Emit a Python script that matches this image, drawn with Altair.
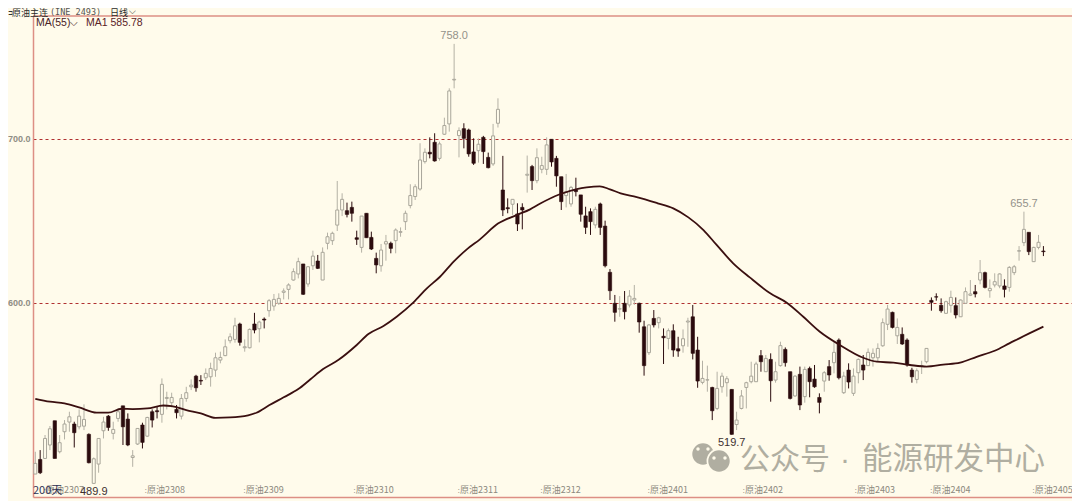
import altair as alt
import pandas as pd

opens = [495.7,504.6,505.2,513.4,528.2,509.3,521.5,527.4,526.2,524.5,524.9,519.9,490.0,501.8,522.1,531.0,520.5,529.6,537.3,529.2,
505.8,514.0,525.6,518.8,533.7,534.3,532.1,541.8,539.2,535.1,531.0,541.8,548.9,555.4,552.8,554.4,555.0,559.1,565.2,567.9,
577.0,577.8,587.2,572.7,572.7,587.2,584.3,590.2,595.3,598.1,599.8,606.5,608.3,614.0,617.7,623.8,611.6,622.7,625.6,614.0,
636.4,638.0,647.5,656.7,656.3,658.3,639.8,633.9,654.7,640.0,627.2,622.7,636.0,636.4,638.0,643.1,649.6,659.4,664.9,669.5,
686.2,691.9,698.0,688.2,702.9,709.2,736.0,702.1,706.3,705.5,692.1,692.9,701.0,688.8,684.8,709.6,668.9,658.1,660.2,654.3,
658.3,677.9,683.2,674.6,681.5,681.5,699.8,688.2,677.0,665.5,660.4,668.9,665.9,653.1,655.7,647.6,660.4,646.9,618.7,599.8,
596.3,599.8,598.8,601.8,599.8,585.5,569.7,590.6,588.0,579.7,578.4,583.1,572.1,573.9,588.4,591.6,571.3,551.6,553.0,548.5,
535.7,548.9,551.4,547.3,525.9,535.7,548.5,552.0,552.0,567.9,558.1,565.6,553.0,561.8,571.7,558.1,543.3,556.5,542.9,560.1,
553.6,542.4,552.4,561.2,563.6,577.4,545.3,559.1,544.9,557.5,562.2,561.8,566.6,566.6,573.9,587.0,594.3,580.0,580.9,577.4,
559.1,553.4,561.8,564.2,601.6,603.8,598.6,593.7,598.6,598.4,591.6,599.8,604.7,606.9,614.0,618.5,607.5,611.0,610.4,610.4,
609.5,618.5,631.6,636.8,643.1,625.2,633.9,631.7]
closes = [502.2,496.5,517.4,523.3,505.2,514.8,526.2,530.6,520.9,531.0,529.0,502.6,505.0,517.4,527.4,524.1,522.9,533.7,524.5,513.4,
506.8,523.5,515.0,530.2,528.6,533.7,550.4,542.4,542.4,533.1,541.8,545.3,549.9,548.3,552.4,557.1,560.1,566.6,566.8,573.3,
579.4,586.1,576.0,573.3,583.9,583.5,588.4,589.6,601.4,602.2,602.8,607.3,611.0,619.1,625.2,605.3,622.1,628.6,621.1,630.9,
640.4,642.5,656.7,663.2,654.0,654.7,638.8,653.0,639.8,632.9,623.2,632.3,637.4,633.3,644.5,643.5,654.7,665.5,670.9,687.2,
691.9,690.9,686.6,697.0,708.2,729.3,736.4,705.1,700.4,690.9,685.2,696.8,692.3,682.5,701.9,718.1,656.7,657.5,663.2,648.2,
656.7,678.5,674.6,688.6,683.8,696.4,686.0,677.5,661.8,667.9,670.5,667.9,654.1,646.1,649.6,657.1,646.1,622.7,607.5,594.3,
596.5,594.7,604.2,602.8,588.4,561.8,586.6,586.6,591.0,578.8,583.1,571.3,570.7,578.2,589.0,569.3,552.4,554.0,553.2,534.3,
547.9,555.4,553.8,519.9,528.6,543.3,551.4,555.4,562.8,564.2,566.2,552.6,558.1,574.0,563.6,541.8,555.4,537.8,559.5,552.0,
548.9,539.4,557.5,556.1,569.9,554.4,555.4,551.8,555.4,565.6,559.1,569.9,569.3,572.3,588.0,596.3,585.1,585.1,575.0,562.2,
555.0,558.7,561.9,572.3,600.4,603.6,595.3,600.8,603.4,592.7,601.8,606.9,605.5,605.5,618.5,609.5,608.9,613.0,617.7,608.3,
621.7,622.1,631.9,644.9,631.3,633.9,637.0,631.3]
highs = [509.3,510.3,519.5,525.0,528.2,519.5,528.6,533.7,527.6,535.1,538.2,520.5,505.8,517.4,530.6,531.7,527.6,535.7,537.3,532.7,
510.3,523.5,527.0,530.6,535.1,537.1,554.0,545.9,545.3,537.8,544.5,548.9,553.4,556.2,556.0,560.1,563.6,569.7,570.3,577.8,
581.5,591.0,588.0,577.8,584.5,594.0,589.2,591.2,602.4,605.5,605.9,608.9,612.0,621.1,627.6,623.8,622.5,631.9,629.3,633.9,
642.9,643.5,674.4,666.9,661.2,661.8,644.1,653.0,654.7,643.5,630.7,636.0,641.5,637.4,645.5,646.1,656.3,672.4,672.4,697.4,
694.3,701.0,703.5,698.4,713.0,730.9,758.0,707.1,709.6,706.3,700.4,700.4,701.9,691.7,709.2,724.8,689.7,663.8,663.2,660.8,
660.8,689.9,684.2,694.3,689.2,701.0,699.8,689.7,677.0,678.7,671.4,676.4,665.9,658.7,657.7,658.7,661.2,650.2,620.7,604.9,
604.2,607.3,607.9,611.0,600.2,589.2,587.2,595.7,591.6,584.5,584.5,587.0,579.4,583.9,591.0,598.8,579.4,564.8,561.8,548.9,
558.1,557.5,555.4,547.3,533.7,546.9,552.0,564.2,564.2,571.3,568.3,569.3,564.2,576.4,572.9,558.1,556.0,561.2,561.2,561.2,
562.2,544.9,558.5,565.2,576.4,578.4,558.1,563.2,560.1,566.2,568.3,572.3,572.3,575.4,590.6,598.8,594.7,590.6,585.1,578.4,
560.5,560.1,564.8,572.3,603.4,605.9,602.8,601.4,607.5,603.4,602.2,609.5,614.0,611.0,626.2,619.1,614.4,618.1,618.1,614.4,
622.5,623.2,634.7,655.7,643.1,634.3,641.5,634.7]
lows = [495.7,495.7,505.2,510.3,505.2,508.3,516.8,521.5,511.9,522.9,522.5,502.2,489.9,496.5,517.4,522.1,516.8,527.6,513.4,512.7,
500.1,513.4,511.3,518.4,524.1,529.6,527.0,535.1,536.3,529.6,529.0,539.8,546.9,545.9,550.0,553.0,549.0,555.0,563.2,567.6,
575.4,575.8,574.0,570.3,572.3,581.5,576.0,584.5,591.6,595.3,598.8,602.2,602.2,613.6,615.0,604.9,609.9,620.1,620.7,614.0,
632.7,635.4,643.9,653.0,652.2,649.6,635.4,630.7,639.8,632.3,618.1,619.1,625.8,630.3,630.3,640.4,644.5,657.7,662.8,668.5,
685.0,688.2,686.2,686.8,702.5,704.5,730.9,688.8,694.3,689.2,684.2,685.6,684.8,682.1,683.6,707.0,653.0,654.7,653.7,643.9,
644.9,667.3,668.9,673.0,679.1,678.1,683.1,670.9,656.7,658.3,658.7,665.0,649.6,642.1,641.5,645.5,641.5,621.7,601.8,588.6,
591.6,590.0,597.3,598.8,581.9,555.7,568.3,585.1,584.5,562.8,571.7,567.2,567.2,569.7,573.3,565.6,548.3,550.4,545.9,528.6,
534.7,545.3,542.9,519.7,522.5,535.1,535.7,551.0,552.0,558.1,558.0,539.8,551.4,561.2,561.2,541.2,542.9,534.7,539.2,542.5,
548.3,532.7,545.9,552.6,557.1,553.4,544.5,547.9,543.3,551.0,553.0,561.6,561.2,564.2,573.3,583.5,584.5,575.0,574.4,561.2,
551.4,551.0,556.7,563.2,595.3,601.4,594.1,593.3,594.1,590.6,591.6,599.4,604.2,603.4,611.4,608.9,603.2,609.5,609.0,603.4,
606.9,617.0,625.8,634.7,629.2,625.2,632.7,628.6]

ma_index = [0,3,6,9,12.6,15,17.7,20,23,26.3,28,31,34,37,40,43.7,45.4,48,51,54,56.5,59.1,62.2,66,68.4,71.5,74.2,77.6,80.4,83.1,85.9,88.6,91.3,95,98.8,101.6,103.6,107.7,111.2,113.2,115.9,118,120.2,123.5,127.8,131,134.1,137.2,139.9,143.3,146.7,150.9,154.3,157.7,161.1,165.2,170,172.8,176.2,179.6,183,186.4,189.9,193.3,197,200,204.1,207]
ma_value = [541.6,539.8,538.8,536.3,533.1,533.1,535.5,535.3,535.7,537.5,537.1,534.7,532.7,530.0,530.2,531.5,533.1,537.6,542.5,547.5,553.5,559.7,565.2,574.4,581.1,586.0,591.6,600.2,608.9,616.0,625.2,632.7,638.8,648.4,653.6,657.1,660.5,666.3,669.5,670.5,671.1,669.3,666.9,664.6,660.8,657.7,652.2,644.5,635.4,624.2,615.6,605.9,600.2,591.6,582.5,574.4,566.6,564.2,563.6,562.2,561.2,562.4,563.6,567.2,570.9,575.4,581.5,585.6]

tick_index = [1.6,22.3,42.6,65.2,86.6,103.6,125.6,145.1,168.1,183.6,204.6]
tick_label = ["原油2307","原油2308","原油2309","原油2310","原油2311","原油2312","原油2401","原油2402","原油2403","原油2404","原油2405"]
peak_index = [86,203,143,12]
peak_label = ["758.0","655.7","519.7","489.9"]
peak_price = [758.0,655.7,519.7,489.9]
peak_side = ["up","up","down","down"]

BG = "#fffbeb"
FRAME = "#dd8f85"
DARK = "#2b0b0e"
GREY = "#a9a69a"
WM = "#b0aea1"
W, H = 1039, 481
xs = alt.Scale(domain=[-0.472, 212.87], nice=False, zero=False, padding=0)
ys = alt.Scale(domain=[481.7, 775], nice=False, zero=False)

df = pd.DataFrame({"i": range(len(opens)), "o": opens, "c": closes, "h": highs, "l": lows})
df["up"] = df.c >= df.o
df["top"] = df[["o", "c"]].max(axis=1)
df["bot"] = df[["o", "c"]].min(axis=1)
ups, downs = df[df.up], df[~df.up]

lookup = "{" + ",".join(f"'{a}':'\u02d0{b}'" for a, b in zip(tick_index, tick_label)) + "}[datum.value]"
x_axis = alt.Axis(values=tick_index, labelExpr=lookup, title=None, grid=False, ticks=False,
                  labelAlign="left", labelPadding=-12, labelColor="#8c897e", labelFont="Noto Sans CJK SC",
                  labelFontSize=9, labelOverlap=False, domainColor=FRAME, domainWidth=1.5, labelFlush=False)
y_axis = alt.Axis(values=[600, 700], format=".1f", title=None, ticks=False, labelPadding=3,
                  labelColor="#8f8d84", labelFont="Liberation Sans", labelFontSize=9, labelFontWeight="bold",
                  domainColor=FRAME, domainWidth=1.5, grid=True, gridColor="#b03030", gridDash=[3, 3], gridWidth=1)

X = alt.X("i:Q", scale=xs, axis=x_axis)
Y = alt.Y("l:Q", scale=ys, axis=y_axis)

wick_up = alt.Chart(ups).mark_rule(color="#b4b1a5", strokeWidth=1).encode(X, Y, y2="h:Q")
wick_dn = alt.Chart(downs).mark_rule(color=DARK, strokeWidth=1).encode(X, Y, y2="h:Q")
body_up = alt.Chart(ups).mark_bar(size=3, fill=BG, stroke=GREY, strokeWidth=1).encode(
    alt.X("i:Q", scale=xs), alt.Y("bot:Q", scale=ys), y2="top:Q")
body_dn = alt.Chart(downs).mark_bar(size=3.4, fill=DARK, stroke=DARK, strokeWidth=0.6).encode(
    alt.X("i:Q", scale=xs), alt.Y("bot:Q", scale=ys), y2="top:Q")

ma = alt.Chart(pd.DataFrame({"i": ma_index, "v": ma_value})).mark_line(
    color="#3a0f10", strokeWidth=1.8, interpolate="monotone").encode(
    alt.X("i:Q", scale=xs), alt.Y("v:Q", scale=ys))

peaks = pd.DataFrame({"i": peak_index, "t": peak_label, "p": peak_price, "s": peak_side})
peak_up = alt.Chart(peaks[peaks.s == "up"]).mark_text(
    font="Liberation Sans", fontSize=11, color="#94928a", baseline="bottom", dy=-3).encode(
    alt.X("i:Q", scale=xs), alt.Y("p:Q", scale=ys), text="t:N")
peak_dn = alt.Chart(peaks[peaks.s == "down"]).mark_text(
    font="Liberation Sans", fontSize=11, color="#3d3030", baseline="top", dy=2).encode(
    alt.X("i:Q", scale=xs), alt.Y("p:Q", scale=ys), text="t:N")

top_rule = alt.Chart(pd.DataFrame({"a": [0]})).mark_rule(color=FRAME, strokeWidth=1.5).encode(
    x=alt.value(0), x2=alt.value(W), y=alt.value(0))


def label(txt, px, py, size, color, font="Noto Sans CJK SC", **kw):
    return alt.Chart(pd.DataFrame({"t": [txt]})).mark_text(
        font=font, fontSize=size, color=color, align="left", baseline="alphabetic", **kw).encode(
        x=alt.value(px - 33), y=alt.value(py - 16), text="t:N")


def dot(px, py, size, color):
    return alt.Chart(pd.DataFrame({"a": [0]})).mark_point(
        shape="circle", filled=True, opacity=1, color=color, size=size).encode(
        x=alt.value(px - 33), y=alt.value(py - 16))


texts = [
    label("⊐", 8, 15, 6, "#333333"),
    label("原油主连", 12, 15.5, 9, "#2a2a2a"),
    label("(INE 2493)", 50, 15, 8.5, "#555555", font="DejaVu Sans Mono"),
    label("日线", 110, 15.5, 9, "#2a2a2a"),
    label("⌵", 129, 14, 9, "#2a2a2a"),
    label("MA(55)", 36, 26, 10.5, "#4a2226", font="Liberation Sans"),
    label("⌵", 70, 26, 10, "#3a0f10"),
    label("MA1 585.78", 86, 26, 10.5, "#5a2226", font="Liberation Sans"),
    label("200天", 33, 494, 11, "#2f3255"),
    label("公众号", 740, 469, 30, WM),
    label("·", 840, 469, 30, WM, font="Liberation Sans"),
    label("能源研发中心", 862, 469, 30.5, WM),
]

logo = [
    dot(703, 454, 460, WM), dot(719, 461, 620, BG), dot(719, 461, 460, WM),
    dot(698, 449, 12, BG), dot(708, 449, 12, BG), dot(714, 458, 12, BG), dot(725, 458, 12, BG),
]

chart = alt.layer(
    wick_up, wick_dn, body_up, body_dn, ma, peak_up, peak_dn, top_rule, *logo, *texts
).resolve_scale(x="shared", y="shared").properties(
    width=W, height=H, background=BG,
    padding={"left": 25, "top": 8, "right": 0, "bottom": 4},
    autosize=alt.AutoSizeParams(type="none", contains="content"),
).configure_view(stroke=None)

chart.save("out.html", embed_options={"renderer": "svg", "actions": False})
